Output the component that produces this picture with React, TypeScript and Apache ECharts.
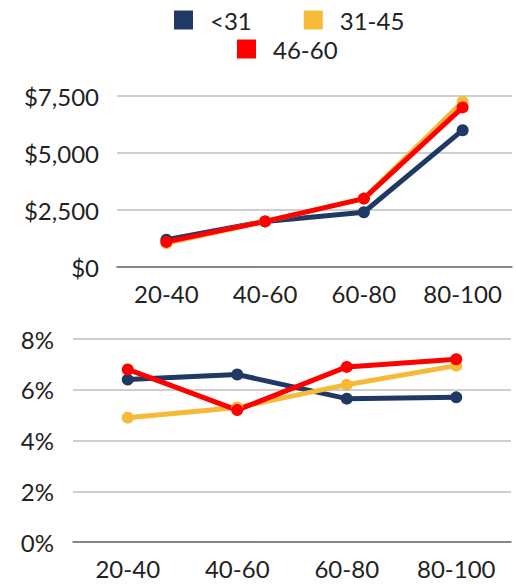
import React, { useEffect, useRef } from "react";
import * as echarts from "echarts";

const categories = ["20-40", "40-60", "60-80", "80-100"];
const seriesNames = ["<31", "31-45", "46-60"];
const colors = ["#1F3864", "#F4BA38", "#FF0000"];

// Dollar amounts per age group
const dollarsUnder31 = [1200, 2000, 2400, 6000];
const dollars31to45 = [1050, 2000, 3000, 7250];
const dollars46to60 = [1100, 2000, 3000, 7000];

// Percentages per age group
const pctUnder31 = [6.4, 6.6, 5.65, 5.7];
const pct31to45 = [4.9, 5.3, 6.2, 6.95];
const pct46to60 = [6.8, 5.2, 6.9, 7.2];

const dollarTicks = { min: 0, max: 7500, interval: 2500 };
const pctTicks = { min: 0, max: 8, interval: 2 };

const FONT = "Lato";
const TEXT = "#222222";
const FONT_SIZE = 24;

export default function App() {
  const ref = useRef<HTMLDivElement>(null);

  useEffect(() => {
    if (!ref.current) return;
    const chart = echarts.init(ref.current, null, { renderer: "svg" });

    const lineSeries = (name: string, data: number[], idx: number, color: string) => ({
      name,
      type: "line",
      xAxisIndex: idx,
      yAxisIndex: idx,
      data,
      symbol: "circle",
      symbolSize: 12,
      lineStyle: { width: 5, color },
      itemStyle: { color },
      emphasis: { disabled: true },
    });

    // Square swatches only: hide the line segment of the line-series legend icon
    const legendCommon = {
      orient: "horizontal",
      itemWidth: 19,
      itemHeight: 19,
      itemGap: 52,
      icon: "rect",
      lineStyle: { opacity: 0, width: 0 },
      itemStyle: { borderWidth: 0 },
      textStyle: {
        fontFamily: FONT,
        fontSize: FONT_SIZE,
        color: TEXT,
        padding: [0, 0, 0, 12],
      },
    };

    const xAxisCommon = {
      type: "category",
      data: categories,
      boundaryGap: true,
      axisTick: { show: false },
      axisLine: { show: true, lineStyle: { color: "#6E6E6E", width: 1.5 } },
      axisLabel: {
        interval: 0,
        hideOverlap: false,
        fontFamily: FONT,
        fontSize: FONT_SIZE,
        color: TEXT,
        margin: 14,
      },
    };

    const yAxisCommon = {
      type: "value",
      axisLine: { show: false },
      axisTick: { show: false },
      splitLine: { lineStyle: { color: "#BFBFBF", width: 1.5 } },
    };

    chart.setOption({
      animation: false,
      color: colors,
      legend: [
        {
          ...legendCommon,
          data: [seriesNames[0], seriesNames[1]],
          left: 169,
          top: 3,
        },
        {
          ...legendCommon,
          data: [seriesNames[2]],
          left: 232,
          top: 32,
        },
      ],
      grid: [
        { left: 117, right: 4, top: 96, bottom: 318 },
        { left: 73, right: 5, top: 339, bottom: 43 },
      ],
      xAxis: [
        { ...xAxisCommon, gridIndex: 0 },
        { ...xAxisCommon, gridIndex: 1 },
      ],
      yAxis: [
        {
          ...yAxisCommon,
          gridIndex: 0,
          ...dollarTicks,
          axisLabel: {
            fontFamily: FONT,
            fontSize: FONT_SIZE,
            color: TEXT,
            margin: 18,
            formatter: (v: number) => "$" + v.toLocaleString("en-US"),
          },
        },
        {
          ...yAxisCommon,
          gridIndex: 1,
          ...pctTicks,
          axisLabel: {
            fontFamily: FONT,
            fontSize: FONT_SIZE,
            color: TEXT,
            margin: 19,
            formatter: (v: number) => v + "%",
          },
        },
      ],
      series: [
        lineSeries(seriesNames[0], dollarsUnder31, 0, colors[0]),
        lineSeries(seriesNames[1], dollars31to45, 0, colors[1]),
        lineSeries(seriesNames[2], dollars46to60, 0, colors[2]),
        lineSeries(seriesNames[0], pctUnder31, 1, colors[0]),
        lineSeries(seriesNames[1], pct31to45, 1, colors[1]),
        lineSeries(seriesNames[2], pct46to60, 1, colors[2]),
      ],
    });

    return () => chart.dispose();
  }, []);

  return (
    <div
      ref={ref}
      style={{ position: "fixed", left: 0, top: 0, width: 516, height: 585, background: "#fff" }}
    />
  );
}
